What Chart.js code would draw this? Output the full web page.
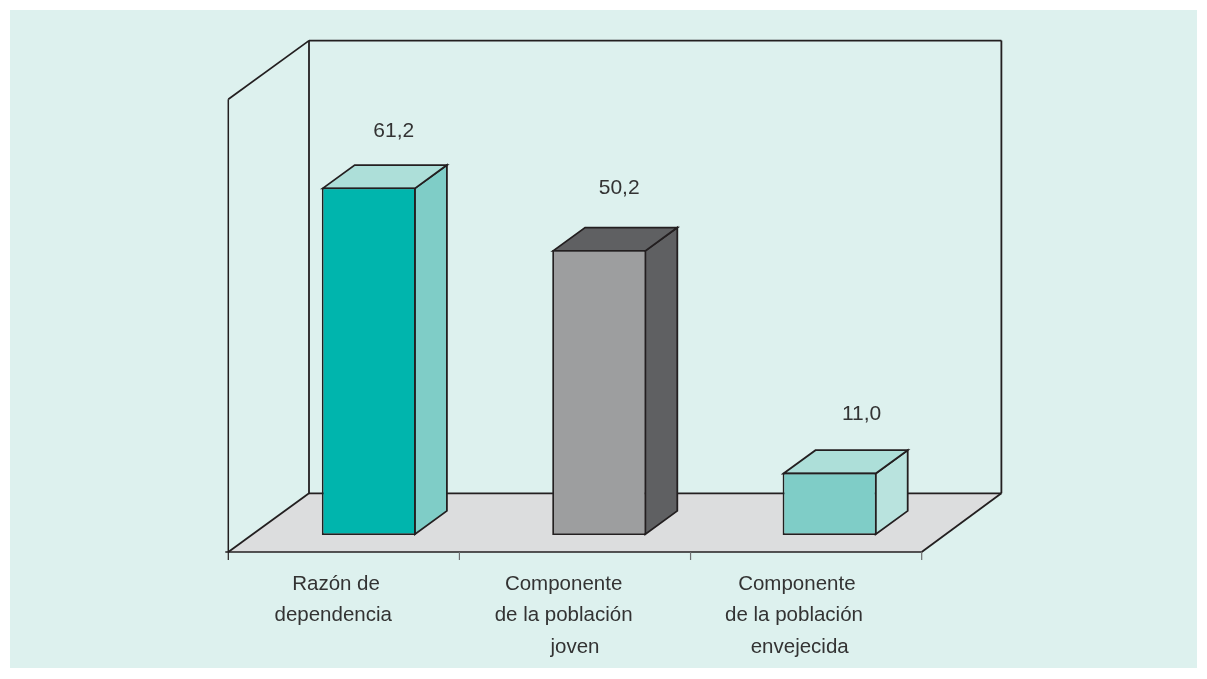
<!DOCTYPE html>
<html><head><meta charset="utf-8">
<style>html,body{margin:0;padding:0;background:#fff}canvas{display:block}</style>
<script src="https://cdn.jsdelivr.net/npm/chart.js@4/dist/chart.umd.min.js"></script>
</head><body><canvas id="c" width="1207" height="679"></canvas>
<script>
const categories = [[" Razón de","dependencia"],["Componente","de la población","    joven"],[" Componente","de la población","  envejecida"]];
const values = [61.2, 50.2, 11.0];
const frontColors = ["#00B5AD","#9D9E9F","#7FCDC7"];
const sideColors = ["#7FCDC7","#5F6062","#B9E3DE"];
const topColors = ["#ADDFD9","#5F6062","#ADDFD9"];
const labelShift = [[25,-56.2],[20,-61.5],[32,-58]];
const INK="#231F20", PANEL="#DDF1EE", FLOOR="#DCDDDE", TEXT="#333333";
const FONT='"Liberation Sans", Arial, sans-serif';
const W=1.8;
function poly(ctx,pts,fill,stroke,lw){
  ctx.beginPath();pts.forEach((p,i)=>i?ctx.lineTo(p[0],p[1]):ctx.moveTo(p[0],p[1]));
  ctx.closePath();
  if(fill){ctx.fillStyle=fill;ctx.fill();}
  if(stroke){ctx.strokeStyle=stroke;ctx.lineWidth=lw||W;ctx.lineJoin="miter";ctx.stroke();}
}
function line(ctx,x1,y1,x2,y2,c,lw){ctx.beginPath();ctx.moveTo(x1,y1);ctx.lineTo(x2,y2);ctx.strokeStyle=c||INK;ctx.lineWidth=lw||W;ctx.stroke();}
const scene={
  id:"scene",
  beforeDraw(chart){
    const ctx=chart.ctx;
    ctx.save();
    ctx.fillStyle="#fff";ctx.fillRect(0,0,chart.width,chart.height);
    ctx.fillStyle=PANEL;ctx.fillRect(10,10,1187,658);
    ctx.restore();
  },
  beforeDatasetsDraw(chart){
    const ctx=chart.ctx,xs=chart.scales.x,ys=chart.scales.y;
    const zero=ys.getPixelForValue(0),top=ys.getPixelForValue(ys.max);
    const step=231.13;
    const fl=xs.left-25.3, fr=fl+step*3, fb=zero+16.9, ft=top+18.6;
    const dx=80.7, dy=-58.7;
    ctx.save();
    poly(ctx,[[fl,fb],[fl+dx,fb+dy],[fr+dx-1,fb+dy],[fr,fb]],FLOOR);
    line(ctx,fl,ft,fl,fb,INK,1.5);
    line(ctx,fl,ft,fl+dx,ft+dy,INK,1.7);
    line(ctx,fl+dx,ft+dy,fl+dx,fb+dy,INK,1.8);
    line(ctx,fl+dx,ft+dy,fr+dx-1,ft+dy,INK,1.8);
    line(ctx,fr+dx-1,ft+dy,fr+dx-1,fb+dy,INK,1.8);
    line(ctx,fl+dx,fb+dy,fr+dx-1,fb+dy,INK,1.8);
    line(ctx,fl,fb,fl+dx,fb+dy,INK,1.8);
    line(ctx,fr,fb,fr+dx-1,fb+dy,INK,1.8);
    line(ctx,fl-3,fb,fr,fb,INK,1.5);
    for(let i=0;i<=3;i++){line(ctx,fl+step*i,fb,fl+step*i,fb+8,i?"#6D6E70":INK,1.2);}
    const meta=chart.getDatasetMeta(0);
    const ddx=32, ddy=-23.3;
    meta.data.forEach((b,i)=>{
      const l=b.x-b.width/2+.9,r=b.x+b.width/2-.9,t=b.y+.9,bt=b.base-.9;
      poly(ctx,[[r,t],[r+ddx,t+ddy],[r+ddx,bt+ddy],[r,bt]],sideColors[i],INK,W);
      poly(ctx,[[l,t],[l+ddx,t+ddy],[r+ddx,t+ddy],[r,t]],topColors[i],INK,W);
    });
    ctx.restore();
  },
  afterDatasetsDraw(chart){
    const ctx=chart.ctx,meta=chart.getDatasetMeta(0);
    ctx.save();
    ctx.fillStyle=TEXT;ctx.font='21px '+FONT;ctx.textAlign="center";ctx.textBaseline="middle";
    meta.data.forEach((b,i)=>{
      ctx.fillText(values[i].toFixed(1).replace(".",","),b.x+labelShift[i][0],b.y+labelShift[i][1]);
    });
    ctx.restore();
  }
};
new Chart(document.getElementById("c"),{
  type:"bar",
  data:{labels:categories,datasets:[{data:values,backgroundColor:frontColors,borderColor:INK,borderWidth:1.8,borderSkipped:false,
    categoryPercentage:1,barPercentage:0.408}]},
  options:{
    responsive:false,animation:false,
    layout:{padding:{left:253.6,right:262.2,top:80.7,bottom:0}},
    plugins:{legend:{display:false},tooltip:{enabled:false},title:{display:false}},
    scales:{
      x:{grid:{display:false,drawTicks:false},border:{display:false},
        afterFit(s){s.height=143.9;},
        ticks:{color:TEXT,font:{family:FONT,size:20.5,lineHeight:1.54},maxRotation:0,minRotation:0,autoSkip:false,labelOffset:-35.6,padding:33.2}},
      y:{display:false,min:0,max:80}
    }
  },
  plugins:[scene]
});
</script></body></html>
